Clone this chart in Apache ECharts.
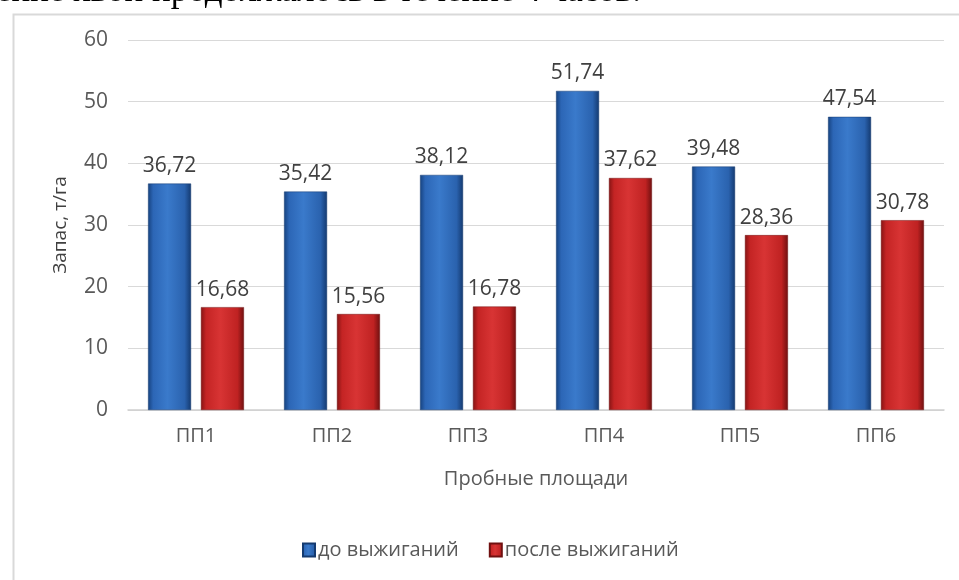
<!DOCTYPE html>
<html>
<head>
<meta charset="utf-8">
<script src="https://cdn.jsdelivr.net/npm/echarts@6/dist/echarts.min.js"></script>
<style>html,body{margin:0;padding:0;background:#fff;}#c{width:959px;height:580px;}</style>
</head>
<body>
<div id="c"></div>
<script>
var categories = ['ПП1', 'ПП2', 'ПП3', 'ПП4', 'ПП5', 'ПП6'];
var beforeBurning = [36.72, 35.42, 38.12, 51.74, 39.48, 47.54];
var afterBurning = [16.68, 15.56, 16.78, 37.62, 28.36, 30.78];
var seriesNames = ['до выжиганий', 'после выжиганий'];
var yTicks = [0, 10, 20, 30, 40, 50, 60];
var yAxisName = 'Запас, т/га';
var xAxisName = 'Пробные площади';
var topText = 'ение хвои продолжалось в течение 4 часов.';

function grad(stops) {
  return new echarts.graphic.LinearGradient(0, 0, 1, 0, stops.map(function (s) { return { offset: s[0], color: s[1] }; }));
}
var blue = grad([[0, '#16427f'], [0.12, '#2c66b6'], [0.45, '#3a7acb'], [0.85, '#2a62ae'], [1, '#143a70']]);
var red = grad([[0, '#861414'], [0.12, '#c42424'], [0.45, '#d83434'], [0.85, '#bf2222'], [1, '#701010']]);
var font = '"Open Sans", sans-serif';
function fmt(v) { return v.toFixed(2).replace('.', ','); }

var chart = echarts.init(document.getElementById('c'), null, { renderer: 'canvas' });
chart.setOption({
  backgroundColor: '#fff',
  animation: false,
  graphic: [
    { type: 'rect', left: 11, top: 12, shape: { width: 960, height: 580 }, style: { fill: 'none', stroke: '#d9d9d9', lineWidth: 2 }, z: 0 },
    { type: 'text', left: -4, top: -26, style: { text: topText, font: '35px "Liberation Serif", serif', fill: '#000' }, z: 10 }
  ],
  grid: { left: 128, right: 15, top: 40, bottom: 170, containLabel: false },
  legend: {
    left: 297, top: 535,
    itemWidth: 12, itemHeight: 13, itemGap: 30,
    icon: 'rect',
    textStyle: { fontFamily: font, fontSize: 20, color: '#595959', padding: [0, 0, 0, -2] },
    data: seriesNames
  },
  xAxis: {
    type: 'category',
    data: categories,
    name: xAxisName,
    nameLocation: 'middle',
    nameGap: 59,
    nameTextStyle: { fontFamily: font, fontSize: 20, color: '#595959' },
    axisLine: { lineStyle: { color: '#d0d0d0', width: 1.5 } },
    axisTick: { show: false },
    axisLabel: { fontFamily: font, fontSize: 20, color: '#595959', margin: 16 }
  },
  yAxis: {
    type: 'value',
    min: 0, max: 60, interval: 10,
    name: yAxisName,
    nameLocation: 'middle',
    nameGap: 58,
    nameTextStyle: { fontFamily: font, fontSize: 19, color: '#404040' },
    axisLine: { show: false },
    axisTick: { show: false },
    splitLine: { lineStyle: { color: '#d9d9d9', width: 1 } },
    axisLabel: {
      fontFamily: font, fontSize: 21, color: '#595959', margin: 20,
      formatter: function (v) { return yTicks.indexOf(v) >= 0 ? String(v) : ''; }
    }
  },
  series: [
    {
      name: seriesNames[0], type: 'bar', data: beforeBurning,
      barWidth: 43, barGap: '23%',
      itemStyle: { color: blue, borderColor: '#143a70', borderWidth: 0.5 },
      label: { show: true, position: 'top', distance: 7, fontFamily: font, fontSize: 21, color: '#404040', formatter: function (p) { return fmt(p.value); } }
    },
    {
      name: seriesNames[1], type: 'bar', data: afterBurning,
      barWidth: 43,
      itemStyle: { color: red, borderColor: '#701010', borderWidth: 0.5 },
      label: { show: true, position: 'top', distance: 7, fontFamily: font, fontSize: 21, color: '#404040', formatter: function (p) { return fmt(p.value); } }
    }
  ]
});
</script>
</body>
</html>
